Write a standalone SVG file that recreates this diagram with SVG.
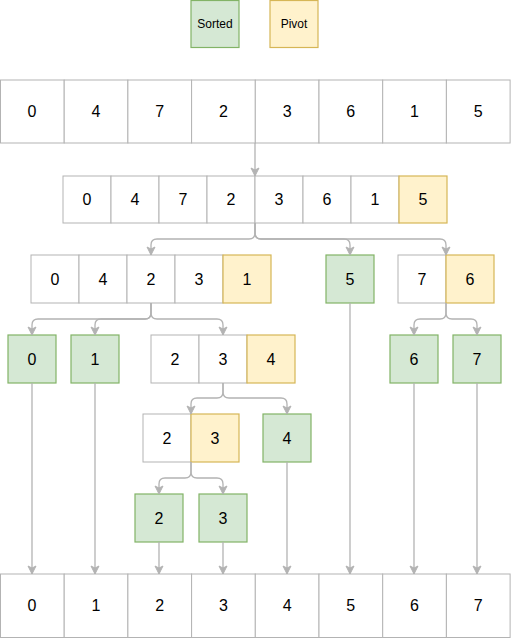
<svg xmlns="http://www.w3.org/2000/svg" width="512" height="639" viewBox="0 0 512 639">
<defs>
<style>
.c{fill:#ffffff;stroke:#B3B3B3;stroke-width:1}
.g{fill:#d5e8d4;stroke:#82b366;stroke-width:1.2}
.p{fill:#fff2cc;stroke:#d6b656;stroke-width:1.2}
.t{font-family:"Liberation Sans",Arial,Helvetica,sans-serif;font-size:16px;fill:#000;text-anchor:middle;dominant-baseline:central}
.s{font-family:"Liberation Sans",Arial,Helvetica,sans-serif;font-size:12px;fill:#000;text-anchor:middle;dominant-baseline:central}
.e{fill:none;stroke:#B3B3B3;stroke-width:1.3;marker-end:url(#a)}
</style>
<marker id="a" markerUnits="userSpaceOnUse" markerWidth="10" markerHeight="10" viewBox="0 0 10 10" refX="9" refY="5" orient="auto">
<path d="M1,1 L9,5 L1,9 L3,5 z" fill="#B3B3B3" stroke="#B3B3B3" stroke-width="1"/>
</marker>
</defs>
<rect width="512" height="639" fill="#ffffff"/>

<g id="legend-sorted"><rect class="g" x="191" y="0.5" width="48" height="47"/><text class="s" x="215" y="24">Sorted</text></g>
<g id="legend-pivot"><rect class="p" x="270" y="0.5" width="48" height="47"/><text class="s" x="294" y="24">Pivot</text></g>

<g id="row0">
<rect class="c" x="0.5" y="80" width="63.7" height="63"/><text class="t" x="32" y="111.5">0</text>
<rect class="c" x="64.2" y="80" width="63.7" height="63"/><text class="t" x="96" y="111.5">4</text>
<rect class="c" x="127.9" y="80" width="63.7" height="63"/><text class="t" x="159.7" y="111.5">7</text>
<rect class="c" x="191.6" y="80" width="63.7" height="63"/><text class="t" x="223.4" y="111.5">2</text>
<rect class="c" x="255.3" y="80" width="63.7" height="63"/><text class="t" x="287.1" y="111.5">3</text>
<rect class="c" x="319" y="80" width="63.7" height="63"/><text class="t" x="350.8" y="111.5">6</text>
<rect class="c" x="382.7" y="80" width="63.7" height="63"/><text class="t" x="414.5" y="111.5">1</text>
<rect class="c" x="446.4" y="80" width="63.7" height="63"/><text class="t" x="478.2" y="111.5">5</text>
</g>

<g id="row1">
<rect class="c" x="63" y="176" width="48" height="47"/><text class="t" x="87" y="199.5">0</text>
<rect class="c" x="111" y="176" width="48" height="47"/><text class="t" x="135" y="199.5">4</text>
<rect class="c" x="159" y="176" width="48" height="47"/><text class="t" x="183" y="199.5">7</text>
<rect class="c" x="207" y="176" width="48" height="47"/><text class="t" x="231" y="199.5">2</text>
<rect class="c" x="255" y="176" width="48" height="47"/><text class="t" x="279" y="199.5">3</text>
<rect class="c" x="303" y="176" width="48" height="47"/><text class="t" x="327" y="199.5">6</text>
<rect class="c" x="351" y="176" width="48" height="47"/><text class="t" x="375" y="199.5">1</text>
<rect class="p" x="399" y="176" width="48" height="47"/><text class="t" x="423" y="199.5">5</text>
</g>

<g id="row2-left">
<rect class="c" x="31" y="255" width="48" height="48"/><text class="t" x="55" y="279">0</text>
<rect class="c" x="79" y="255" width="48" height="48"/><text class="t" x="103" y="279">4</text>
<rect class="c" x="127" y="255" width="48" height="48"/><text class="t" x="151" y="279">2</text>
<rect class="c" x="175" y="255" width="48" height="48"/><text class="t" x="199" y="279">3</text>
<rect class="p" x="223" y="255" width="48" height="48"/><text class="t" x="247" y="279">1</text>
</g>
<g id="sorted-5"><rect class="g" x="326" y="255" width="48" height="48"/><text class="t" x="350" y="279">5</text></g>
<g id="row2-right">
<rect class="c" x="398" y="255" width="48" height="48"/><text class="t" x="422" y="279">7</text>
<rect class="p" x="446" y="255" width="48" height="48"/><text class="t" x="470" y="279">6</text>
</g>

<g id="sorted-0"><rect class="g" x="8" y="335" width="48" height="48"/><text class="t" x="32" y="359">0</text></g>
<g id="sorted-1"><rect class="g" x="71" y="335" width="48" height="48"/><text class="t" x="95" y="359">1</text></g>
<g id="row3-mid">
<rect class="c" x="151" y="335" width="48" height="48"/><text class="t" x="175" y="359">2</text>
<rect class="c" x="199" y="335" width="48" height="48"/><text class="t" x="223" y="359">3</text>
<rect class="p" x="247" y="335" width="48" height="48"/><text class="t" x="271" y="359">4</text>
</g>
<g id="sorted-6"><rect class="g" x="390" y="335" width="48" height="48"/><text class="t" x="414" y="359">6</text></g>
<g id="sorted-7"><rect class="g" x="453" y="335" width="48" height="48"/><text class="t" x="477" y="359">7</text></g>

<g id="row4-mid">
<rect class="c" x="143" y="414" width="48" height="48"/><text class="t" x="167" y="438">2</text>
<rect class="p" x="191" y="414" width="48" height="48"/><text class="t" x="215" y="438">3</text>
</g>
<g id="sorted-4"><rect class="g" x="263" y="414" width="48" height="48"/><text class="t" x="287" y="438">4</text></g>

<g id="sorted-2"><rect class="g" x="135" y="494" width="48" height="48"/><text class="t" x="159" y="518">2</text></g>
<g id="sorted-3"><rect class="g" x="199" y="494" width="48" height="48"/><text class="t" x="223" y="518">3</text></g>

<g id="result">
<rect class="c" x="0.5" y="574" width="63.7" height="63.5"/><text class="t" x="32" y="605.5">0</text>
<rect class="c" x="64.2" y="574" width="63.7" height="63.5"/><text class="t" x="96" y="605.5">1</text>
<rect class="c" x="127.9" y="574" width="63.7" height="63.5"/><text class="t" x="159.7" y="605.5">2</text>
<rect class="c" x="191.6" y="574" width="63.7" height="63.5"/><text class="t" x="223.4" y="605.5">3</text>
<rect class="c" x="255.3" y="574" width="63.7" height="63.5"/><text class="t" x="287.1" y="605.5">4</text>
<rect class="c" x="319" y="574" width="63.7" height="63.5"/><text class="t" x="350.8" y="605.5">5</text>
<rect class="c" x="382.7" y="574" width="63.7" height="63.5"/><text class="t" x="414.5" y="605.5">6</text>
<rect class="c" x="446.4" y="574" width="63.7" height="63.5"/><text class="t" x="478.2" y="605.5">7</text>
</g>

<g id="connectors">
<path class="e" d="M255 143 V176"/>
<path class="e" d="M255 223 V233 Q255 239 249 239 H157 Q151 239 151 245 V255"/>
<path class="e" d="M255 223 V233 Q255 239 261 239 H344 Q350 239 350 245 V255"/>
<path class="e" d="M255 223 V233 Q255 239 261 239 H440 Q446 239 446 245 V255"/>
<path class="e" d="M151 303 V313 Q151 319 145 319 H38 Q32 319 32 325 V335"/>
<path class="e" d="M151 303 V313 Q151 319 145 319 H101 Q95 319 95 325 V335"/>
<path class="e" d="M151 303 V313 Q151 319 157 319 H217 Q223 319 223 325 V335"/>
<path class="e" d="M446 303 V313 Q446 319 440 319 H420 Q414 319 414 325 V335"/>
<path class="e" d="M446 303 V313 Q446 319 452 319 H471 Q477 319 477 325 V335"/>
<path class="e" d="M223 383 V392 Q223 398 217 398 H197 Q191 398 191 404 V414"/>
<path class="e" d="M223 383 V392 Q223 398 229 398 H281 Q287 398 287 404 V414"/>
<path class="e" d="M191 462 V472 Q191 478 185 478 H165 Q159 478 159 484 V494"/>
<path class="e" d="M191 462 V472 Q191 478 197 478 H217 Q223 478 223 484 V494"/>
<path class="e" d="M32 383 V574"/>
<path class="e" d="M95 383 V574"/>
<path class="e" d="M159 542 V574"/>
<path class="e" d="M223 542 V574"/>
<path class="e" d="M287 462 V574"/>
<path class="e" d="M350 303 V574"/>
<path class="e" d="M414 383 V574"/>
<path class="e" d="M477 383 V574"/>
</g>
</svg>
